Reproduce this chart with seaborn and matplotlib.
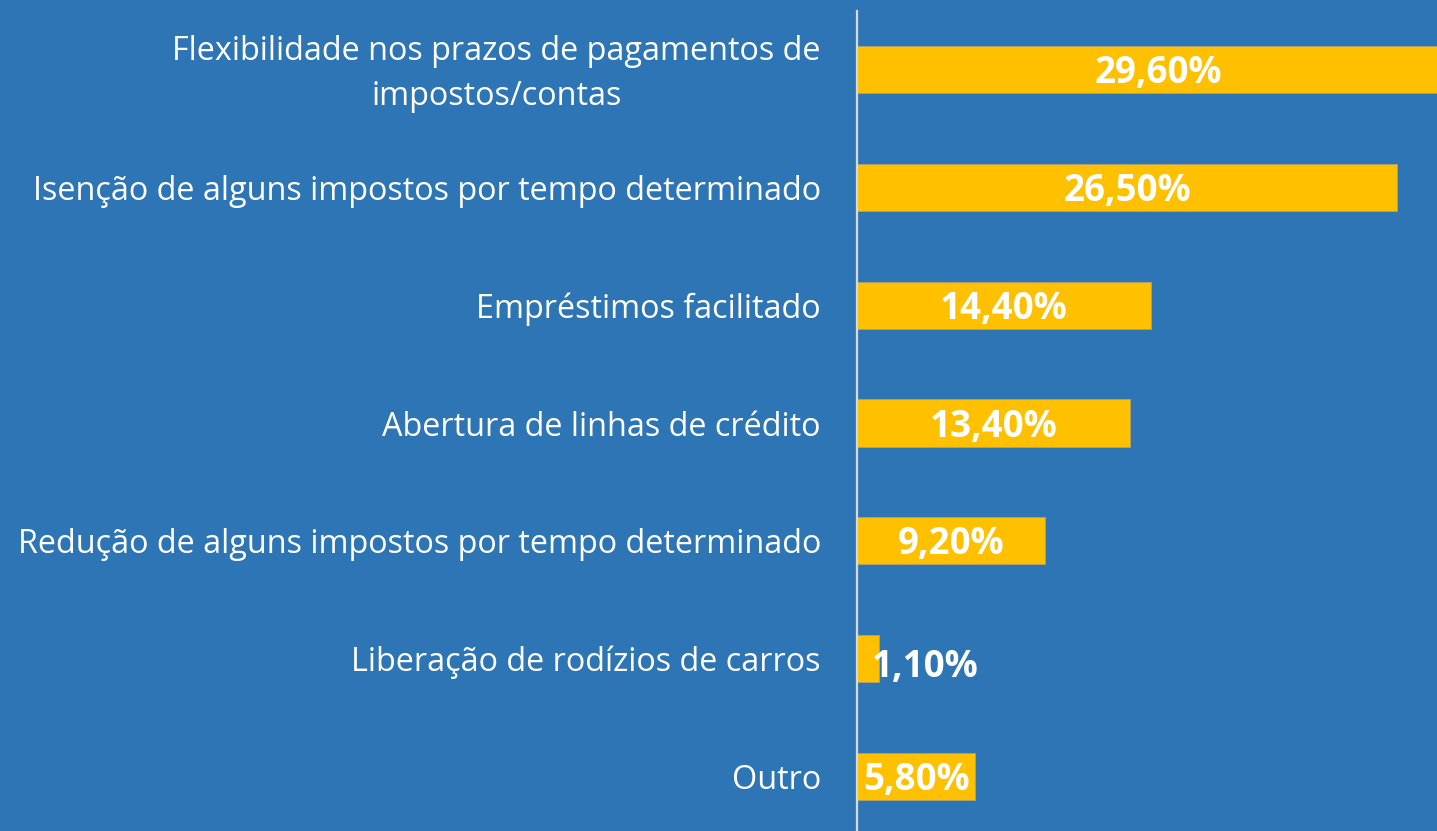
import matplotlib
matplotlib.use("Agg")
import matplotlib.pyplot as plt
import matplotlib.transforms as mtransforms
import seaborn as sns
import pandas as pd

categories = [
    "Flexibilidade nos prazos de pagamentos de\nimpostos/contas",
    "Isenção de alguns impostos por tempo determinado",
    "Empréstimos facilitado",
    "Abertura de linhas de crédito",
    "Redução de alguns impostos por tempo determinado",
    "Liberação de rodízios de carros",
    "Outro",
]
values = [29.6, 26.5, 14.4, 13.4, 9.2, 1.1, 5.8]
value_labels = ["29,60%", "26,50%", "14,40%", "13,40%", "9,20%", "1,10%", "5,80%"]

BG = "#2E75B6"
BAR = "#FFC000"

sns.set_theme(style="white")
plt.rcParams["font.family"] = ["Open Sans", "DejaVu Sans"]

df = pd.DataFrame({"cat": categories, "val": values})

fig = plt.figure(figsize=(14.37, 8.31), dpi=100, facecolor=BG)
ax = fig.add_axes([857 / 1437, -4 / 831, 580 / 1437, 824 / 831])
ax.set_facecolor(BG)

sns.barplot(data=df, y="cat", x="val", orient="h", color=BAR, width=0.40,
            saturation=1, edgecolor="#B0A070", linewidth=0.6, ax=ax)

ax.set_xlim(0, 28.45)
ax.set_ylim(6.5, -0.5)
ax.set_xlabel("")
ax.set_ylabel("")
ax.set_xticks([])
for s in ["top", "right", "bottom"]:
    ax.spines[s].set_visible(False)
ax.spines["left"].set_color("#D9D9D9")
ax.spines["left"].set_linewidth(1.6)
ax.tick_params(axis="y", length=0, pad=26, colors="white", labelsize=23.3)
for lbl in ax.get_yticklabels():
    lbl.set_multialignment("center")
    lbl.set_linespacing(1.5)
    lbl.set_color("white")
    if "\n" in lbl.get_text():
        lbl.set_transform(lbl.get_transform() +
                          mtransforms.ScaledTranslation(0, 6 / 100, fig.dpi_scale_trans))

for i, (v, t) in enumerate(zip(values, value_labels)):
    if v > 4:
        x, dy = v / 2, 0.03
    else:
        x, dy = 3.35, 0.07
    ax.text(x, i + dy, t, ha="center", va="center", color="white",
            fontsize=26.5, fontweight="bold", clip_on=False)

fig.savefig("out.png", dpi=100, facecolor=BG)
